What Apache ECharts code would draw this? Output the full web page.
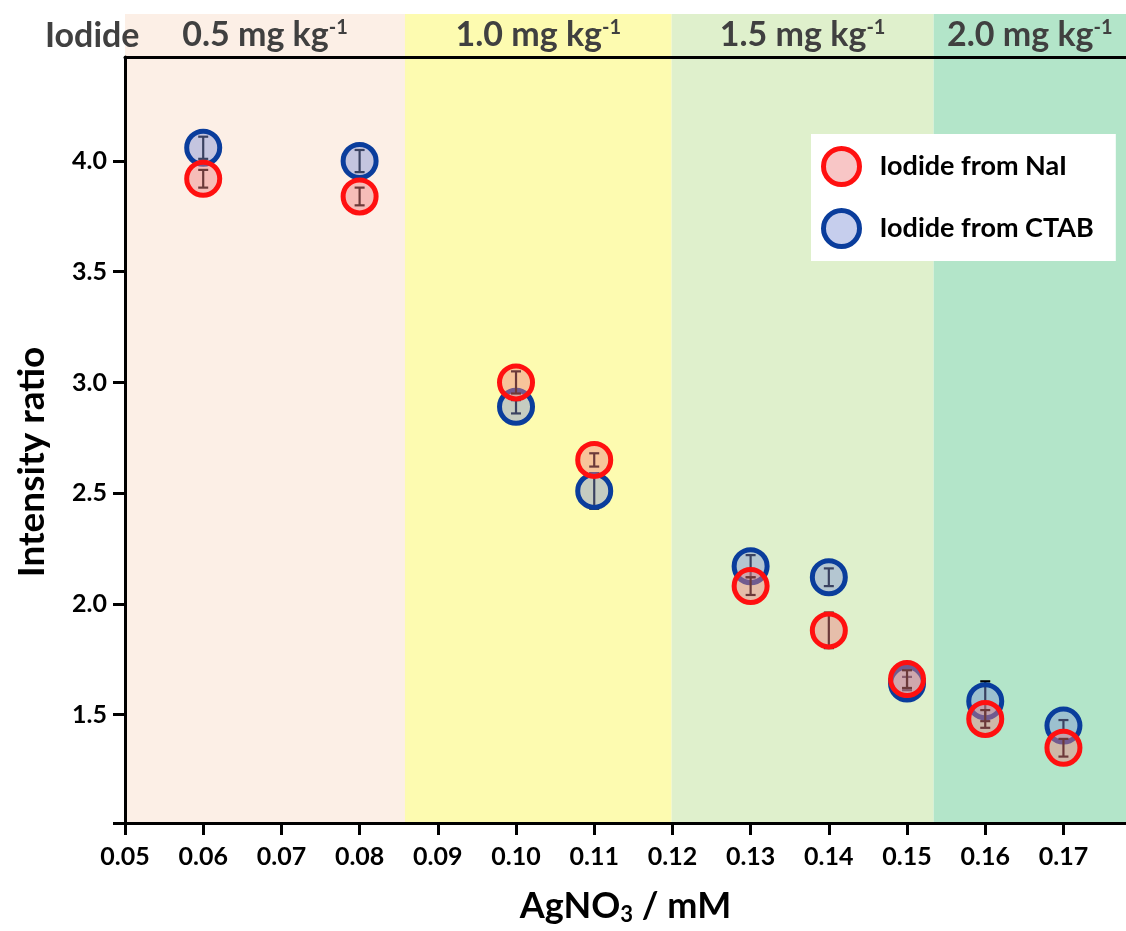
<!DOCTYPE html>
<html>
<head>
<meta charset="utf-8">
<script src="https://cdn.jsdelivr.net/npm/echarts@6/dist/echarts.min.js"></script>
<style>
html,body{margin:0;padding:0;background:#fff;}
#chart{width:1126px;height:931px;}
</style>
</head>
<body>
<div id="chart"></div>
<script>
// ---- data ----
const xValues = [0.06, 0.08, 0.10, 0.11, 0.13, 0.14, 0.15, 0.16, 0.17];
const naiValues = [3.92, 3.84, 3.00, 2.65, 2.08, 1.88, 1.66, 1.48, 1.35];
const naiErrors = [0.04, 0.04, 0.05, 0.03, 0.04, 0.08, 0.04, 0.04, 0.04];
const ctabValues = [4.06, 4.00, 2.89, 2.51, 2.17, 2.12, 1.64, 1.56, 1.45];
const ctabErrors = [0.05, 0.05, 0.03, 0.08, 0.05, 0.04, 0.03, 0.09, 0.025];
const xTickValues = [0.05, 0.06, 0.07, 0.08, 0.09, 0.10, 0.11, 0.12, 0.13, 0.14, 0.15, 0.16, 0.17];
const yTickValues = [1.5, 2.0, 2.5, 3.0, 3.5, 4.0];
const xRange = [0.05, 0.178];
const yRange = [1.01, 4.47];
const bandEdges = [0.05, 0.0858, 0.1199, 0.1534, 0.178];
const bandLabels = ['0.5', '1.0', '1.5', '2.0'];
const seriesNames = ['Iodide from NaI', 'Iodide from CTAB'];

const bandColors = ['#fcefe6', '#fdfbb0', '#dff0cc', '#b3e5c9'];
const FONT = 'Lato';

function pairs(xs, ys) { return xs.map((x, i) => [x, ys[i]]); }
function errData(xs, ys, es) { return xs.map((x, i) => [x, ys[i] - es[i], ys[i] + es[i]]); }

function errRender(params, api) {
  const x = api.value(0);
  const lo = api.coord([x, api.value(1)]);
  const hi = api.coord([x, api.value(2)]);
  const cap = 5;
  const st = { stroke: '#000', lineWidth: 2.2 };
  return {
    type: 'group',
    children: [
      { type: 'line', shape: { x1: lo[0], y1: lo[1], x2: hi[0], y2: hi[1] }, style: st },
      { type: 'line', shape: { x1: lo[0] - cap, y1: lo[1], x2: lo[0] + cap, y2: lo[1] }, style: st },
      { type: 'line', shape: { x1: hi[0] - cap, y1: hi[1], x2: hi[0] + cap, y2: hi[1] }, style: st }
    ]
  };
}

const mainBands = bandColors.map((c, i) => [
  { xAxis: bandEdges[i], itemStyle: { color: c } },
  { xAxis: bandEdges[i + 1] }
]);
const headBands = bandColors.map((c, i) => [
  { xAxis: bandEdges[i], itemStyle: { color: c },
    label: { formatter: '{a|' + bandLabels[i] + ' mg kg}{s|-1}' } },
  { xAxis: bandEdges[i + 1] }
]);

const naiStyle = { color: 'rgba(240,128,128,0.45)', borderColor: '#ff1010', borderWidth: 5, opacity: 1 };
const ctabStyle = { color: 'rgba(128,146,214,0.45)', borderColor: '#0a3d9c', borderWidth: 5, opacity: 1 };

const chart = echarts.init(document.getElementById('chart'), null, { renderer: 'canvas' });
const option = {
  animation: false,
  textStyle: { fontFamily: FONT },
  title: {
    text: 'Iodide', left: 40, top: 14,
    textStyle: { fontFamily: FONT, fontSize: 34, fontWeight: 'bold', color: '#404040' },
    z: 20
  },
  grid: [
    { left: 125, right: 0, top: 57, bottom: 102, containLabel: false },
    { left: 125, right: 0, top: 14, height: 43, containLabel: false }
  ],
  xAxis: [
    {
      type: 'value', gridIndex: 0, min: xRange[0], max: xRange[1], z: 10,
      name: 'AgNO{sub|3} / mM', nameLocation: 'middle', nameGap: 63,
      nameTextStyle: {
        fontFamily: FONT, fontSize: 36, fontWeight: 'bold', color: '#000',
        rich: { sub: { fontFamily: FONT, fontSize: 22, fontWeight: 'bold', color: '#000', padding: [18, 0, 0, 0] } }
      },
      splitLine: { show: false },
      axisLine: { show: true, onZero: false, lineStyle: { color: '#000', width: 3 } },
      axisTick: { show: true, inside: false, length: 12, customValues: xTickValues, lineStyle: { color: '#000', width: 3 } },
      axisLabel: {
        customValues: xTickValues, margin: 21, fontFamily: FONT, fontSize: 25, fontWeight: 'bold', color: '#000',
        formatter: v => v.toFixed(2)
      }
    },
    {
      type: 'value', gridIndex: 0, position: 'top', min: xRange[0], max: xRange[1], z: 10,
      splitLine: { show: false }, axisTick: { show: false }, axisLabel: { show: false },
      axisLine: { show: true, onZero: false, lineStyle: { color: '#000', width: 3 } }
    },
    {
      type: 'value', gridIndex: 1, min: xRange[0], max: xRange[1], show: false
    }
  ],
  yAxis: [
    {
      type: 'value', gridIndex: 0, min: yRange[0], max: yRange[1], z: 10,
      name: 'Intensity ratio', nameLocation: 'middle', nameGap: 74,
      nameTextStyle: { fontFamily: FONT, fontSize: 37, fontWeight: 'bold', color: '#000', padding: [0, 44, 0, 0] },
      splitLine: { show: false },
      axisLine: { show: true, onZero: false, lineStyle: { color: '#000', width: 3 } },
      axisTick: { show: true, inside: false, length: 12, customValues: [yRange[0]].concat(yTickValues), lineStyle: { color: '#000', width: 3 } },
      axisLabel: {
        customValues: yTickValues, margin: 18, fontFamily: FONT, fontSize: 25, fontWeight: 'bold', color: '#000',
        formatter: v => v.toFixed(1)
      }
    },
    { type: 'value', gridIndex: 1, min: 0, max: 1, show: false }
  ],
  legend: {
    data: [
      { name: seriesNames[0], icon: 'circle', itemStyle: naiStyle },
      { name: seriesNames[1], icon: 'circle', itemStyle: ctabStyle }
    ],
    orient: 'vertical', left: 811, top: 134,
    backgroundColor: '#ffffff',
    padding: [12, 22, 12, 10],
    itemGap: 21, itemWidth: 36, itemHeight: 36,
    textStyle: { fontFamily: FONT, fontSize: 27, fontWeight: 'bold', color: '#000', lineHeight: 34, padding: [0, 0, 0, 15] },
    z: 30
  },
  series: [
    {
      type: 'scatter', xAxisIndex: 2, yAxisIndex: 1, data: [], silent: true,
      markArea: {
        silent: true,
        label: {
          show: true, position: 'inside',
          rich: {
            a: { fontFamily: FONT, fontSize: 34, fontWeight: 'bold', color: '#404040' },
            s: { fontFamily: FONT, fontSize: 20, fontWeight: 'bold', color: '#404040', padding: [0, 0, 16, 0] }
          }
        },
        data: headBands
      }
    },
    {
      type: 'scatter', xAxisIndex: 0, yAxisIndex: 0, data: [], silent: true,
      markArea: { silent: true, data: mainBands }
    },
    {
      type: 'custom', name: 'ctabErr', xAxisIndex: 0, yAxisIndex: 0,
      renderItem: errRender, data: errData(xValues, ctabValues, ctabErrors), z: 3
    },
    {
      type: 'scatter', name: seriesNames[1], xAxisIndex: 0, yAxisIndex: 0,
      data: pairs(xValues, ctabValues), symbol: 'circle', symbolSize: 33,
      itemStyle: ctabStyle, z: 4
    },
    {
      type: 'custom', name: 'naiErr', xAxisIndex: 0, yAxisIndex: 0,
      renderItem: errRender, data: errData(xValues, naiValues, naiErrors), z: 5
    },
    {
      type: 'scatter', name: seriesNames[0], xAxisIndex: 0, yAxisIndex: 0,
      data: pairs(xValues, naiValues), symbol: 'circle', symbolSize: 33,
      itemStyle: naiStyle, z: 6
    }
  ]
};
chart.setOption(option);
</script>
</body>
</html>
